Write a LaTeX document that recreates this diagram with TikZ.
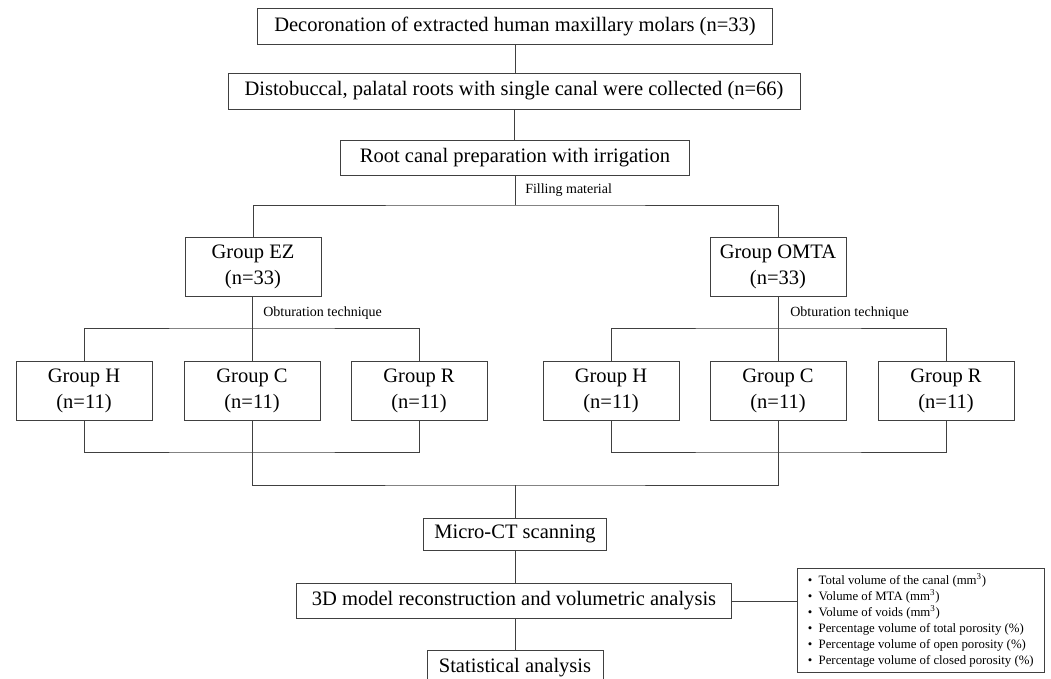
\documentclass[tikz,border=0pt]{standalone}
\usepackage{fontspec}
\setmainfont{Liberation Serif}
\usetikzlibrary{positioning}

\tikzset{
  box/.style={draw=black!75, line width=.65pt, fill=white, inner sep=0pt,
    align=center, font=\fontsize{15.4}{19}\selectfont},
  grp/.style={box, minimum width=102pt, minimum height=44pt},
  lbl/.style={anchor=west, inner sep=0pt, font=\fontsize{10.5}{12}\selectfont},
  link/.style={draw=black!75, line width=.6pt},
}

\begin{document}
\begin{tikzpicture}[x=.75pt, y=-.75pt]
\useasboundingbox (0,0) rectangle (1051,679);

% top chain
\node[box, minimum width=386pt, minimum height=27pt] (decor) at (515,26)
  {Decoronation of extracted human maxillary molars (n=33)};
\node[box, minimum width=429pt, minimum height=27pt] (roots) at (514,91)
  {Distobuccal, palatal roots with single canal were collected (n=66)};
\node[box, minimum width=262pt, minimum height=26pt] (prep) at (515,158)
  {Root canal preparation with irrigation};
\draw[link] (decor.south) -- (decor.south |- roots.north);
\draw[link] (roots.south) -- (roots.south |- prep.north);

% filling material
\coordinate (fill) at (515,205);
\node[grp] (ez) at (253,267) {Group EZ\\(n=33)};
\node[grp] (omta) at (778,267) {Group OMTA\\(n=33)};
\draw[link] (prep.south) -- (fill);
\draw[link] (ez.north) |- (fill) -| (omta.north);
\node[lbl] (fillmat) at (525,190) {Filling material};

% obturation, EZ side
\node[grp] (ezH) at (84,391) {Group H\\(n=11)};
\node[grp] (ezC) at (252,391) {Group C\\(n=11)};
\node[grp] (ezR) at (419,391) {Group R\\(n=11)};
\coordinate (ezsplit) at (252,328);
\coordinate (ezjoin) at (252,452);
\draw[link] (ez.south -| ezsplit) -- (ezC.north);
\draw[link] (ezH.north) |- (ezsplit) -| (ezR.north);
\draw[link] (ezH.south) |- (ezjoin) -| (ezR.south);
\draw[link] (ezC.south) -- (ezjoin);
\node[lbl] (ezobt) at (263,313) {Obturation technique};

% obturation, OMTA side
\node[grp] (omH) at (611,391) {Group H\\(n=11)};
\node[grp] (omC) at (778,391) {Group C\\(n=11)};
\node[grp] (omR) at (946,391) {Group R\\(n=11)};
\coordinate (omsplit) at (778,328);
\coordinate (omjoin) at (778,452);
\draw[link] (omta.south) -- (omC.north);
\draw[link] (omH.north) |- (omsplit) -| (omR.north);
\draw[link] (omH.south) |- (omjoin) -| (omR.south);
\draw[link] (omC.south) -- (omjoin);
\node[lbl] (omobt) at (790,313) {Obturation technique};

% merge
\coordinate (merge) at (515,485);
\node[box, minimum width=137pt, minimum height=24pt] (ct) at (515,534)
  {Micro-CT scanning};
\draw[link] (ezjoin) |- (merge) -| (omjoin);
\draw[link] (merge) -- (ct.north);

% analysis
\node[box, minimum width=326pt, minimum height=26pt] (recon) at (514,601)
  {3D model reconstruction and volumetric analysis};
\node[box, minimum width=132pt, minimum height=27pt] (stat) at (515,668)
  {Statistical analysis};
\draw[link] (ct.south) -- (ct.south |- recon.north);
\draw[link] (recon.south -| stat.north) -- (stat.north);

\node[draw=black!75, line width=.65pt, anchor=north west, inner xsep=6pt,
  inner ysep=3pt, minimum width=185pt, minimum height=78pt, align=left,
  font=\fontsize{9.6}{11.9}\selectfont] (vol) at (797,568)
  {\textbullet\enspace Total volume of the canal (mm\textsuperscript{3})\\
   \textbullet\enspace Volume of MTA (mm\textsuperscript{3})\\
   \textbullet\enspace Volume of voids (mm\textsuperscript{3})\\
   \textbullet\enspace Percentage volume of total porosity (\%)\\
   \textbullet\enspace Percentage volume of open porosity (\%)\\
   \textbullet\enspace Percentage volume of closed porosity (\%)};
\draw[link] (recon.east) -- (recon.east -| vol.west);

\end{tikzpicture}
\end{document}
